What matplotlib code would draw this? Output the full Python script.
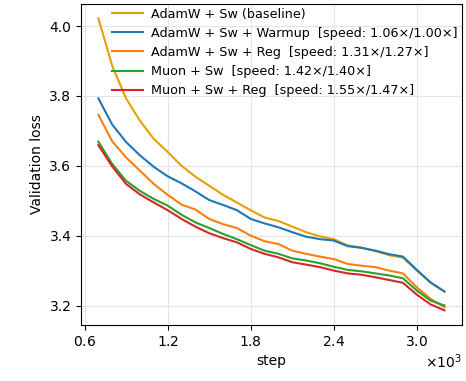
import matplotlib
matplotlib.use('Agg')
import matplotlib.pyplot as plt
from matplotlib.ticker import MultipleLocator, ScalarFormatter

steps = [700, 800, 900, 1000, 1100, 1200, 1300, 1400, 1500, 1600, 1700, 1800, 1900,
         2000, 2100, 2200, 2300, 2400, 2500, 2600, 2700, 2800, 2900, 3000, 3100, 3200]

adamw_baseline = [4.022, 3.886, 3.793, 3.729, 3.677, 3.640, 3.600, 3.569, 3.543, 3.517,
                  3.495, 3.473, 3.452, 3.442, 3.426, 3.410, 3.398, 3.390, 3.372, 3.366,
                  3.356, 3.344, 3.337, 3.300, 3.265, 3.240]
adamw_warmup = [3.793, 3.718, 3.668, 3.630, 3.597, 3.570, 3.550, 3.527, 3.502, 3.488,
                3.473, 3.448, 3.435, 3.424, 3.410, 3.397, 3.390, 3.386, 3.370, 3.365,
                3.357, 3.347, 3.340, 3.302, 3.266, 3.240]
adamw_reg = [3.746, 3.670, 3.624, 3.586, 3.548, 3.517, 3.489, 3.475, 3.448, 3.433,
             3.422, 3.400, 3.384, 3.376, 3.357, 3.348, 3.340, 3.333, 3.319, 3.314,
             3.310, 3.300, 3.292, 3.252, 3.219, 3.195]
muon = [3.669, 3.605, 3.557, 3.528, 3.505, 3.486, 3.460, 3.438, 3.422, 3.405,
        3.390, 3.373, 3.357, 3.348, 3.335, 3.329, 3.321, 3.311, 3.302, 3.298,
        3.292, 3.286, 3.278, 3.243, 3.214, 3.200]
muon_reg = [3.659, 3.598, 3.548, 3.518, 3.495, 3.473, 3.448, 3.426, 3.407, 3.393,
            3.381, 3.362, 3.348, 3.338, 3.324, 3.317, 3.310, 3.300, 3.292, 3.288,
            3.281, 3.273, 3.265, 3.231, 3.203, 3.186]

labels = ['AdamW + Sw (baseline)',
          'AdamW + Sw + Warmup  [speed: 1.06×/1.00×]',
          'AdamW + Sw + Reg  [speed: 1.31×/1.27×]',
          'Muon + Sw  [speed: 1.42×/1.40×]',
          'Muon + Sw + Reg  [speed: 1.55×/1.47×]']
colors = ['#E6A000', 'tab:blue', 'tab:orange', 'tab:green', 'tab:red']

fig, ax = plt.subplots(figsize=(4.66, 3.81), dpi=100)
fig.subplots_adjust(left=0.174, right=0.991, top=0.99, bottom=0.147)

for ys, lab, c in zip([adamw_baseline, adamw_warmup, adamw_reg, muon, muon_reg], labels, colors):
    ax.plot(steps, ys, color=c, lw=1.5, label=lab)

ax.xaxis.set_major_locator(MultipleLocator(600))
ax.yaxis.set_major_locator(MultipleLocator(0.2))
fmt = ScalarFormatter(useMathText=True)
fmt.set_powerlimits((0, 0))
ax.xaxis.set_major_formatter(fmt)
ax.tick_params(labelsize=10)
ax.grid(True, color='#e4e4e4', lw=0.8)
ax.set_xlabel('step', fontsize=10)
ax.set_ylabel('Validation loss', fontsize=10)
ax.legend(loc='upper right', frameon=False, fontsize=9.2, borderaxespad=-0.1,
          labelspacing=0.48, handlelength=2.4, handletextpad=0.7)

fig.savefig('out.png', dpi=100)
